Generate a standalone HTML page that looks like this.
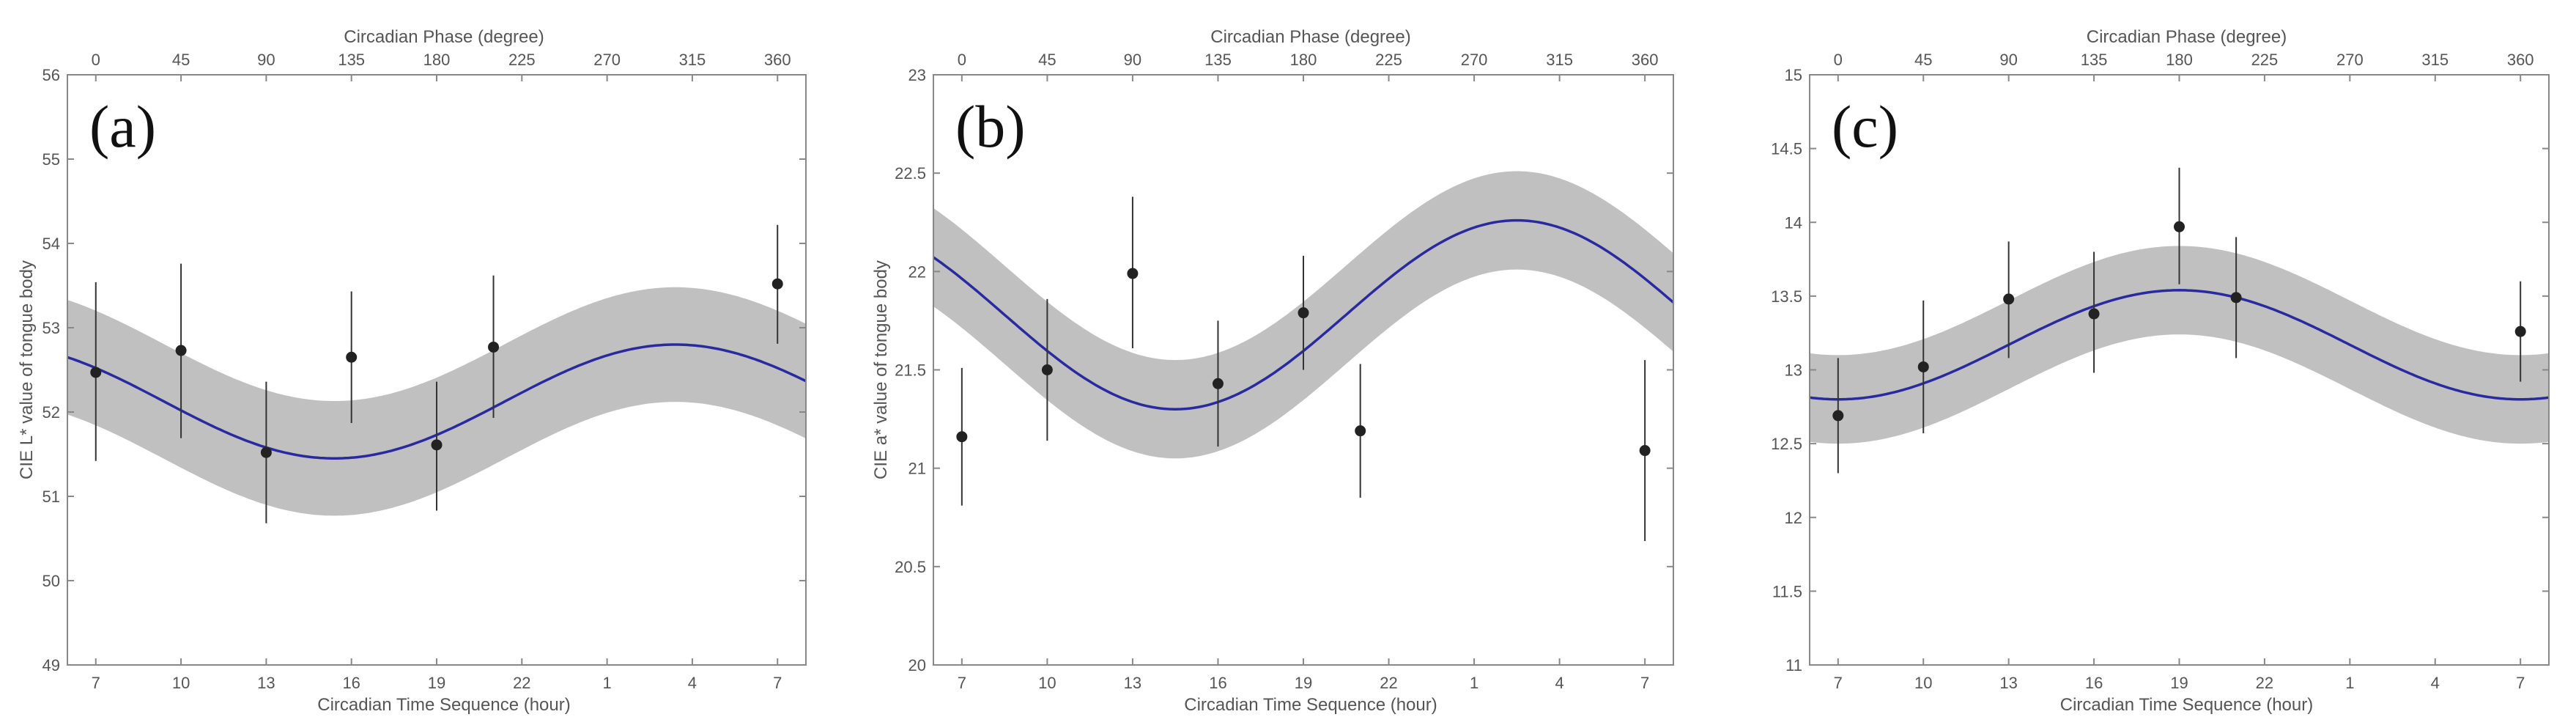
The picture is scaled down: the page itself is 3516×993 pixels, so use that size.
<!DOCTYPE html>
<html><head><meta charset="utf-8"><style>
html,body{margin:0;padding:0;background:#fff;}
svg{display:block;}
text{font-family:"Liberation Sans",sans-serif;fill:#555;}
</style></head><body>
<svg id="fig" width="3516" height="993" viewBox="0 0 3516 993" xmlns="http://www.w3.org/2000/svg"></svg>
<script>
// shared x-axis data (hours from 07:00)
const hourTicks = [0,3,6,9,12,15,18,21,24];
const hourLabels = ["7","10","13","16","19","22","1","4","7"];
const phaseLabels = ["0","45","90","135","180","225","270","315","360"];
const sampleHours = [0,3,6,9,12,14,24];

// panel (a)
const aMeans = [52.47,52.73,51.52,52.65,51.61,52.77,53.52];
const aUpper = [53.54,53.76,52.36,53.43,52.36,53.62,54.22];
const aLower = [51.42,51.69,50.68,51.87,50.83,51.93,52.81];
const aFit = [52.125,0.675,20.4,0.68]; // mesor, amplitude, peak hour, band half-width
const aYTicks = [49,50,51,52,53,54,55,56];
// panel (b)
const bMeans = [21.16,21.50,21.99,21.43,21.79,21.19,21.09];
const bUpper = [21.51,21.86,22.38,21.75,22.08,21.53,21.55];
const bLower = [20.81,21.14,21.61,21.11,21.50,20.85,20.63];
const bFit = [21.78,0.48,19.5,0.25];
const bYTicks = [20,20.5,21,21.5,22,22.5,23];
// panel (c)
const cMeans = [12.69,13.02,13.48,13.38,13.97,13.49,13.26];
const cUpper = [13.08,13.47,13.87,13.80,14.37,13.90,13.60];
const cLower = [12.30,12.57,13.08,12.98,13.58,13.08,12.92];
const cFit = [13.17,0.37,12.0,0.30];
const cYTicks = [11,11.5,12,12.5,13,13.5,14,14.5,15];

const NS="http://www.w3.org/2000/svg";
const fig=document.getElementById('fig');
function mk(tag,attrs,parent){const e=document.createElementNS(NS,tag);for(const k in attrs)e.setAttribute(k,attrs[k]);(parent||fig).appendChild(e);return e;}

const TOP=102,BOT=907;
const panels=[
 {id:'a',left:92,right:1100,means:aMeans,up:aUpper,lo:aLower,fit:aFit,yt:aYTicks,ylab:"CIE L* value of tongue body",ylx:36},
 {id:'b',left:1274,right:2284,means:bMeans,up:bUpper,lo:bLower,fit:bFit,yt:bYTicks,ylab:"CIE a* value of tongue body",ylx:1202},
 {id:'c',left:2470,right:3479,means:cMeans,up:cUpper,lo:cLower,fit:cFit,yt:cYTicks,ylab:null}
];

panels.forEach(p=>{
  const g=mk('g',{});
  
  
  const ymin=p.yt[0],ymax=p.yt[p.yt.length-1];
  const X=h=>p.left+(h+1)/26*(p.right-p.left);
  const Y=v=>BOT-(v-ymin)/(ymax-ymin)*(BOT-TOP);
  const fitf=h=>p.fit[0]+p.fit[1]*Math.cos(2*Math.PI*(h-p.fit[2])/24);
  // band
  let up=[],lo=[];
  for(let i=0;i<=260;i++){const h=-1+26*i/260;up.push(X(h).toFixed(1)+','+Y(fitf(h)+p.fit[3]).toFixed(1));lo.push(X(h).toFixed(1)+','+Y(fitf(h)-p.fit[3]).toFixed(1));}
  const band=mk('polygon',{points:up.concat(lo.reverse()).join(' '),fill:'#c0c0c0'},g);
  
  
  let pts=[];
  for(let i=0;i<=260;i++){const h=-1+26*i/260;pts.push(X(h).toFixed(1)+','+Y(fitf(h)).toFixed(1));}
  const curve=mk('polyline',{points:pts.join(' '),fill:'none',stroke:'#2a2aa0','stroke-width':3.5},g);
  
  
  // error bars & points
  sampleHours.forEach((h,i)=>{
    const eb=mk('line',{x1:X(h),x2:X(h),y1:Y(p.up[i]),y2:Y(p.lo[i]),stroke:'#333','stroke-width':2},g);
    
    
    const c=mk('circle',{cx:X(h),cy:Y(p.means[i]),r:7.5,fill:'#222'},g);
    
    
  });
  // axes box
  const box=mk('rect',{x:p.left,y:TOP,width:p.right-p.left,height:BOT-TOP,fill:'none',stroke:'#888','stroke-width':2},g);
  
  
  hourTicks.forEach((h,i)=>{
    const x=X(h);
    mk('line',{x1:x,x2:x,y1:BOT,y2:BOT-9,stroke:'#888','stroke-width':2},g);
    mk('line',{x1:x,x2:x,y1:TOP,y2:TOP+9,stroke:'#888','stroke-width':2},g);
    const t=mk('text',{x:x,y:939,'text-anchor':'middle','font-size':22},g);t.textContent=hourLabels[i];
    
    
    const t2=mk('text',{x:x,y:89,'text-anchor':'middle','font-size':22},g);t2.textContent=phaseLabels[i];
    
    
  });
  p.yt.forEach(v=>{
    const y=Y(v);
    mk('line',{x1:p.left,x2:p.left+9,y1:y,y2:y,stroke:'#888','stroke-width':2},g);
    mk('line',{x1:p.right,x2:p.right-9,y1:y,y2:y,stroke:'#888','stroke-width':2},g);
    const t=mk('text',{x:p.left-10,y:y+8,'text-anchor':'end','font-size':22},g);t.textContent=String(v);
    
    
  });
  const cx=(p.left+p.right)/2;
  const xt=mk('text',{x:cx+10,y:969,'text-anchor':'middle','font-size':24},g);xt.textContent="Circadian Time Sequence (hour)";
  
  
  const tt=mk('text',{x:cx+10,y:58,'text-anchor':'middle','font-size':24},g);tt.textContent="Circadian Phase (degree)";
  
  
  if(p.ylab){
    const yl=mk('text',{x:p.ylx+8,y:(TOP+BOT)/2,'text-anchor':'middle','font-size':24,transform:'rotate(-90 '+(p.ylx+8)+' '+((TOP+BOT)/2)+')'},g);yl.textContent=p.ylab;
    
    
  }
  const lab=mk('text',{x:p.left+30,y:200,'font-size':82,style:'font-family:"Liberation Serif",serif;fill:#111'},g);lab.textContent='('+p.id+')';
  
  
});
</script>
</body></html>
